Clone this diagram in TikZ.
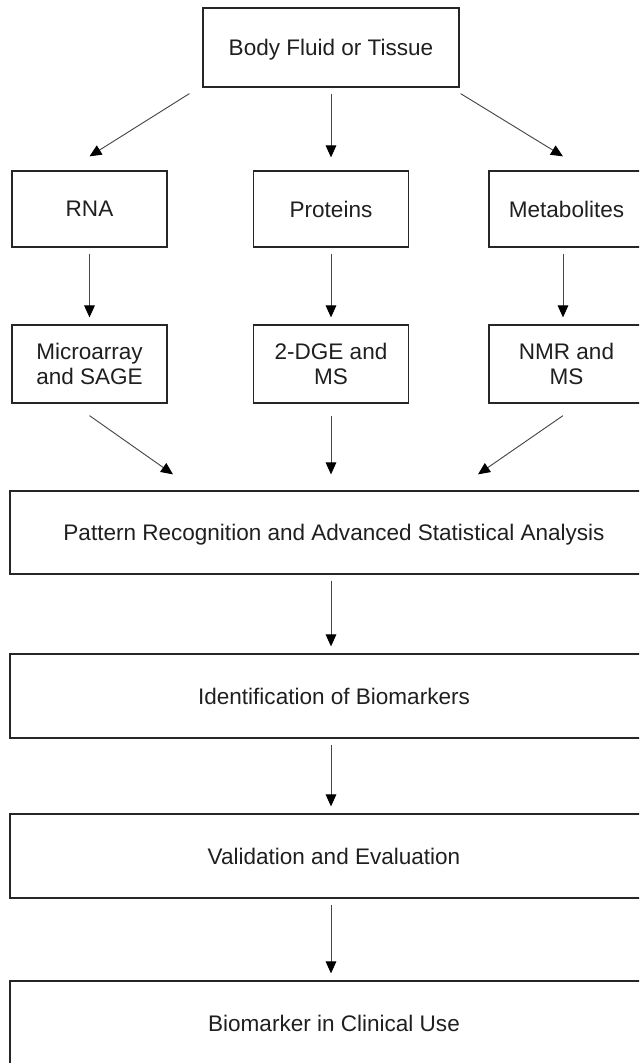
\documentclass[tikz,border=0pt]{standalone}
\usepackage{fontspec}
\setmainfont{Liberation Sans}
\usetikzlibrary{arrows.meta}
\def\s{0.75pt}

\begin{document}
\begin{tikzpicture}[x=\s,y=-\s,
  box/.style={draw=black!85,line width=0.95pt,text=black!88,inner sep=0pt,
    align=center,text depth=0pt,font=\fontsize{16.9}{18.8}\selectfont},
  top/.style={box,minimum width=256*\s,minimum height=79*\s},
  omic/.style={box,minimum width=155*\s,minimum height=76*\s},
  tech/.style={box,minimum width=155*\s,minimum height=78*\s},
  wide/.style={box,minimum width=648*\s,minimum height=84*\s},
  arr/.style={draw=black!72,line width=0.7pt,
    -{Triangle[length=9pt,width=8pt,color=black]}}]
\useasboundingbox (0,0) rectangle (639,1063);
\clip (0,0) rectangle (639,1063);
% ---- sample ----
\node[top] (body) at (331,47.5) {Body Fluid or Tissue};
% ---- three omics levels ----
\node[omic] (rna)  at (89.5,209) {RNA};
\node[omic] (prot) at (331,209)  {Proteins};
\node[omic] (meta) at (566.5,209) {Metabolites};
% ---- analytical platforms ----
\node[tech] (micro) at (89.5,364) {Microarray\\and SAGE};
\node[tech] (dge)   at (331,364)  {2-DGE and\\MS};
\node[tech] (nmr)   at (566.5,364) {NMR and\\MS};
% ---- downstream pipeline ----
\node[wide,minimum height=83*\s] (pattern) at (334,532.5)
  {Pattern Recognition and Advanced Statistical Analysis};
\node[wide] (ident) at (334,696)  {Identification of Biomarkers};
\node[wide] (valid) at (334,856)  {Validation and Evaluation};
\node[wide] (clin)  at (334,1023) {Biomarker in Clinical Use};
% ---- arrows: sample -> omics ----
\draw[arr] ([xshift=-13*\s,yshift=-6*\s]body.south west) -- ([yshift=14*\s]rna.north);
\draw[arr] ([yshift=-6*\s]body.south) -- ([yshift=13*\s]prot.north);
\draw[arr] ([xshift=1*\s,yshift=-6*\s]body.south east) -- ([xshift=-3.5*\s,yshift=14*\s]meta.north);
% ---- arrows: omics -> platforms ----
\foreach \a/\b in {rna/micro,prot/dge}
  \draw[arr] ([yshift=-6*\s]\a.south) -- ([yshift=7*\s]\b.north);
\draw[arr] ([xshift=-3.5*\s,yshift=-6*\s]meta.south) -- ([xshift=-3.5*\s,yshift=7*\s]nmr.north);
% ---- arrows: platforms -> analysis ----
\draw[arr] ([yshift=-12*\s]micro.south) -- ([xshift=-161*\s,yshift=16*\s]pattern.north);
\draw[arr] ([yshift=-12*\s]dge.south) -- ([xshift=-3*\s,yshift=16*\s]pattern.north);
\draw[arr] ([xshift=-3.5*\s,yshift=-12*\s]nmr.south) -- ([xshift=144*\s,yshift=16*\s]pattern.north);
% ---- arrows: pipeline ----
\foreach \a/\b in {pattern/ident,ident/valid,valid/clin}
  \draw[arr] ([xshift=-3*\s,yshift=-6*\s]\a.south) -- ([xshift=-3*\s,yshift=7*\s]\b.north);
\end{tikzpicture}
\end{document}
